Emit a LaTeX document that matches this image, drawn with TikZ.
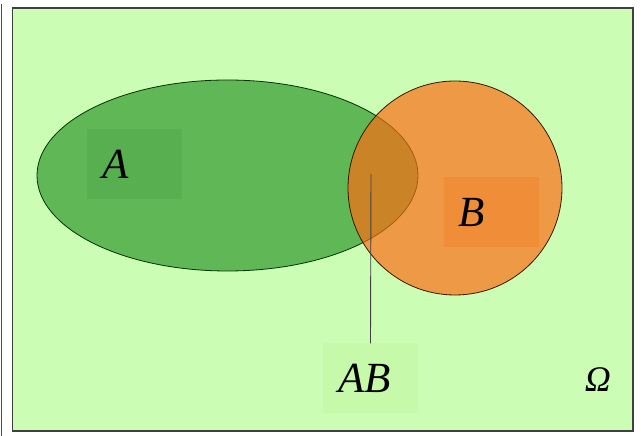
\documentclass[tikz,border=0pt]{standalone}
\usepackage{fontspec}
\setmainfont{Liberation Serif}
\definecolor{omegabg}{RGB}{204,253,180}
\definecolor{setA}{RGB}{95,183,85}
\definecolor{setB}{RGB}{255,107,19}
\definecolor{boxA}{RGB}{88,175,79}
\definecolor{boxB}{RGB}{240,141,56}
\definecolor{boxAB}{RGB}{198,249,170}

\begin{document}
\begin{tikzpicture}[x=1pt,y=1pt,
    labelbox/.style={inner xsep=15pt,text width=65pt,align=left,minimum height=70pt,font=\fontsize{43}{45}\selectfont\itshape}]
    \useasboundingbox (0,0) rectangle (641,436);
    \draw[black!70,line width=1pt] (1.5,0) -- (1.5,432);
    \draw[black!75,line width=1.2pt,fill=omegabg] (12.5,5) rectangle (633,428);
    \draw[black!80!green,line width=0.8pt,fill=setA] (227.5,260.5) ellipse [x radius=190.5,y radius=95.5];
    \draw[black!80!orange,line width=0.8pt,fill=setB,fill opacity=0.68] (455,248) circle [radius=107];
    \node[labelbox,fill=boxA] (A) at (134.5,272) {A};
    \node[labelbox,fill=boxB] (B) at (491,224) {B};
    \node[labelbox,fill=boxAB] (AB) at (370.5,57.5) {AB};
    \node[font=\fontsize{36}{38}\selectfont\itshape] (Omega) at (598,56) {Ω};
    \coordinate (inter) at (371,262);
    \draw[black!75,line width=0.9pt] (inter) -- (AB.north);
\end{tikzpicture}
\end{document}
